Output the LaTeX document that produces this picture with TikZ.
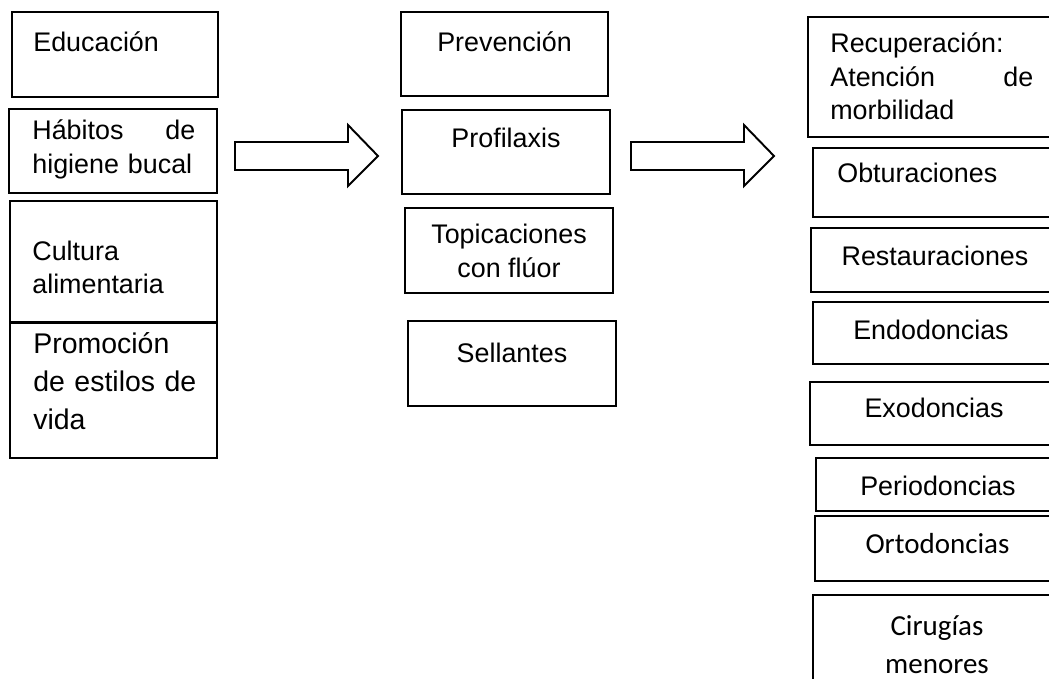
\documentclass[tikz,border=0pt]{standalone}
\usepackage{fontspec}
\setmainfont{Liberation Sans}
\newfontfamily\calibri{Carlito}
\usetikzlibrary{positioning}
\tikzset{
  box/.style      = {draw, line width=1.1pt, rectangle, inner sep=0pt,
                     outer sep=0pt, anchor=north west},
  txt/.style      = {inner sep=0pt, font=\fontsize{15.3}{19}\selectfont},
  bigtxt/.style   = {inner sep=0pt, font=\fontsize{16.2}{21.8}\selectfont},
  caltxt/.style   = {inner sep=0pt, font=\calibri\fontsize{16.5}{21.5}\selectfont},
  blockarrow/.style = {draw, line width=1.1pt, fill=white, line join=miter},
}

\begin{document}
\begin{tikzpicture}[x=0.02cm,y=-0.02cm]
\useasboundingbox (0,0) rectangle (1049,679);
\clip (0,0) rectangle (1049,679);
% boxes: name / left / top / right / bottom (the right column runs off the page)
\foreach \n/\xa/\ya/\xb/\yb in {edu/12/12/218/97, hab/9/109/217/193,
    cul/10/201/217/323, pro/10/322/217/458,
    prev/401/12/608/96, prof/402/110/610/194, topi/405/208/613/293, sell/408/321/616/406,
    recu/808/17/1062/137, obtu/813/148/1062/217, rest/811/228/1062/292,
    endo/813/302/1062/364, exo/810/382/1062/445, peri/816/458/1062/511,
    orto/815/516/1062/581, ciru/813/595/1062/700}
  \node[box, minimum width={(\xb-\xa)*0.02cm}, minimum height={(\yb-\ya)*0.02cm}] (\n) at (\xa,\ya) {};
% block arrows between the columns
\foreach \x in {235,631}
  \draw[blockarrow] (\x,142) -- ++(113,0) -- ++(0,-17) -- ++(30,31) -- ++(-30,30)
    -- ++(0,-16) -- ++(-113,0) -- cycle;
% left column
\node[txt, anchor=base west] (edut) at (33,52) {Educación};
\node[txt, anchor=base west, text width=3.26cm, align=left] (habt) at (32,140) {Hábitos\hfill de\\higiene bucal};
\node[txt, anchor=base west, text width=3.26cm, align=left] (cult) at (32,260) {Cultura\\alimentaria};
\node[bigtxt, anchor=base west, text width=3.4cm, align=left] (prot) at (33,353) {Promoción\\de estilos de\\vida};
% middle column (base of a centred two-line node is its last line)
\node[txt, anchor=base] (prevt) at (504.5,52) {Prevención};
\node[txt, anchor=base] (proft) at (506,148) {Profilaxis};
\node[txt, anchor=base, align=center] (topit) at (509,277) {Topicaciones\\con flúor};
\node[txt, anchor=base] (sellt) at (512,362) {Sellantes};
% right column
\node[txt, anchor=base west, text width=4.06cm, align=left] (recut) at (830,53) {Recuperación:\\Atención\hfill de\\morbilidad};
\node[txt, anchor=base west] (obtut) at (837,183) {Obturaciones};
\node[txt, anchor=base] (restt) at (935,265) {Restauraciones};
\node[txt, anchor=base] (endot) at (931,339) {Endodoncias};
\node[txt, anchor=base] (exot) at (934,417) {Exodoncias};
\node[txt, anchor=base] (perit) at (938,495) {Periodoncias};
\node[caltxt, anchor=base] (ortot) at (937.5,553) {Ortodoncias};
\node[caltxt, anchor=base, align=center] (cirut) at (937,673) {Cirugías\\menores};
\end{tikzpicture}
\end{document}
